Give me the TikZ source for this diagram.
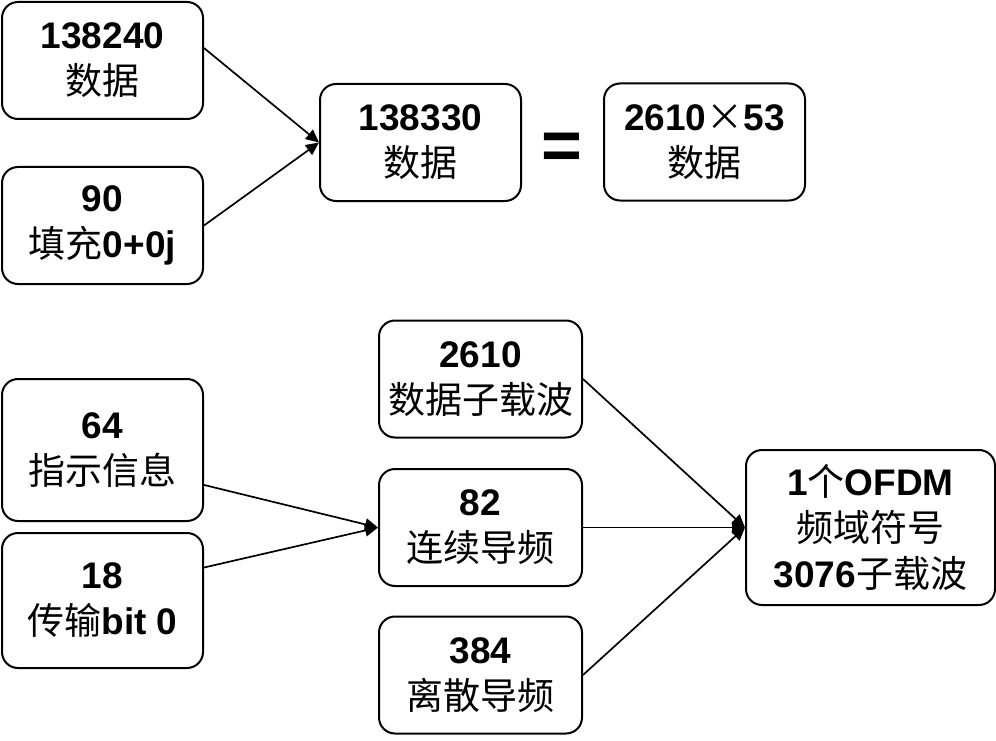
\documentclass[tikz,border=0pt]{standalone}
\usepackage{fontspec}
\setmainfont{Liberation Sans}
\newfontfamily\cjk{Noto Sans CJK SC}
\usetikzlibrary{arrows.meta}
\newcommand{\zh}[1]{{\cjk\mdseries #1}}

\tikzset{
  box/.style={draw, line width=2pt, rounded corners=16pt, minimum width=201pt,
    minimum height=117pt, align=center, inner sep=0pt,
    font=\fontsize{37}{46}\selectfont\bfseries},
  link/.style={line width=1.7pt, -{Triangle[length=13pt,width=12pt]}}
}

\begin{document}
\begin{tikzpicture}[x=1pt,y=-1pt]
  \useasboundingbox (0,0) rectangle (996,741);
  % upper part
  \node[box] (data) at (102.5,60.5) {138240\\\zh{数据}};
  \node[box] (pad) at (102.5,225.5) {90\\\zh{填充}0+0j};
  \node[box] (total) at (420.5,142.5) {138330\\\zh{数据}};
  \node[font=\fontsize{70}{70}\selectfont\bfseries] (eq) at (562,151) {=};
  \node[box] (grid) at (704.5,142) {2610\zh{×}53\\\zh{数据}};
  \draw[link] (data.7) -- (total.west);
  \draw[link] (pad.east) -- (total.west);
  % lower part
  \node[box, minimum height=142pt] (info) at (102.5,450) {64\\\zh{指示信息}};
  \node[box, minimum height=135pt] (bits) at (102.5,600.5) {18\\\zh{传输}bit 0};
  \node[box, minimum width=203pt] (datasc) at (480.5,379) {2610\\\zh{数据子载波}};
  \node[box, minimum width=203pt] (cpilot) at (480.5,527.5) {82\\\zh{连续导频}};
  \node[box, minimum width=203pt] (spilot) at (480.5,675) {384\\\zh{离散导频}};
  \node[box, minimum width=249pt, minimum height=155pt] (ofdm) at (870.5,527.5)
    {1\zh{个}OFDM\\\zh{频域符号}\\3076\zh{子载波}};
  \draw[link] (info.-19) -- (cpilot.west);
  \draw[link] (bits.18) -- (cpilot.west);
  \draw[link] (datasc.east) -- (ofdm.west);
  \draw[link] (cpilot.east) -- (ofdm.west);
  \draw[link] (spilot.east) -- (ofdm.west);
\end{tikzpicture}
\end{document}
